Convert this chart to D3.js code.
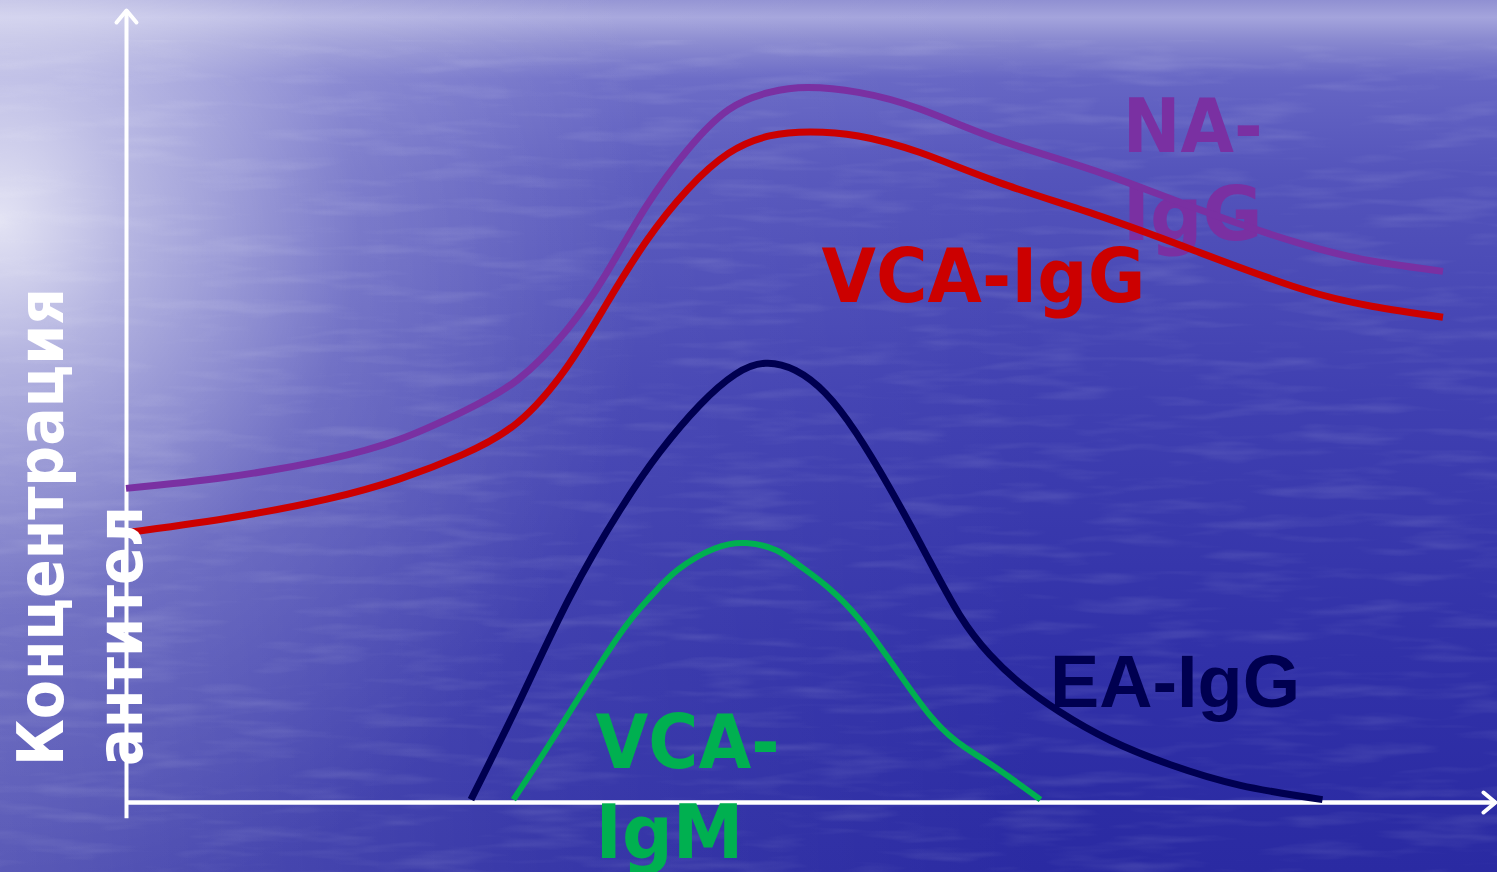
<!DOCTYPE html>
<html lang="ru">
<head>
<meta charset="utf-8">
<script src="https://cdn.jsdelivr.net/npm/d3@7"></script>
<style>
html, body { margin: 0; padding: 0; overflow: hidden; background: #3a3ab0; }
svg { display: block; }
</style>
</head>
<body>
<svg id="chart" width="1497" height="872"></svg>
<script>
// время и концентрация в условных единицах (0..100)
const naIgG = [[0, 39.6], [7.3, 41.0], [14.6, 43.2], [20.0, 45.8], [24.5, 49.2], [28.6, 53.3],
    [32.2, 59.6], [35.0, 66.5], [38.0, 75.2], [41.0, 82.3], [44.0, 87.4], [47.0, 89.6],
    [49.8, 90.2], [53.5, 89.6], [58.0, 87.5], [63.8, 83.6], [71.1, 79.5], [78.4, 74.8],
    [85.8, 70.5], [91.0, 68.3], [96.2, 67.0]];
const vcaIgG = [[0, 34.0], [7.3, 35.8], [14.6, 38.2], [20.0, 40.8], [24.5, 43.8], [28.6, 47.9],
    [32.2, 54.9], [35.0, 62.6], [38.0, 70.8], [41.0, 77.3], [44.0, 81.9], [47.0, 84.1],
    [50.0, 84.6], [53.5, 84.1], [58.0, 82.0], [63.8, 78.2], [71.1, 74.0], [78.4, 69.4],
    [85.8, 64.8], [91.0, 62.6], [96.2, 61.2]];
const eaIgG = [[25.2, 0.3], [28.8, 12.9], [32.4, 25.8], [36.1, 36.9], [39.0, 44.2], [41.9, 50.1],
    [44.5, 54.0], [46.7, 55.4], [48.9, 54.5], [51.1, 51.6], [53.3, 46.7], [55.8, 39.6],
    [58.4, 31.4], [60.9, 23.6], [63.1, 18.6], [65.3, 15.0], [68.2, 11.4], [71.9, 7.8],
    [76.3, 4.7], [81.4, 2.1], [87.4, 0.3]];
const vcaIgM = [[28.3, 0.3], [31.3, 8.3], [35.8, 20.5], [38.3, 25.9], [40.3, 29.3], [43.0, 32.0],
    [45.3, 32.7], [47.5, 31.8], [49.4, 29.6], [53.6, 23.0], [58.7, 11.0], [62.7, 5.3], [66.8, 0.3]];

const seriesNames = ["NA-IgG", "VCA-IgG", "EA-IgG", "VCA-IgM"];
const seriesData = [naIgG, vcaIgG, eaIgG, vcaIgM];
const seriesColors = ["#7a30a2", "#cc0000", "#000050", "#00b050"];

// подписи кривых (строки), и подпись оси Y
const labelLines = [["NA-", "IgG"], ["VCA-IgG"], ["EA-IgG"], ["VCA-", "IgM"]];
const yTitleLines = ["Концентрация", "антител"];

const attr_area = {
    width: 1497,
    height: 872,
    left: 126,
    right: 1495,
    top: 10,
    bottom: 802
};

const svg = d3.select("#chart");

const scX = d3.scaleLinear().domain([0, 100]).range([attr_area.left, attr_area.right]);
const scY = d3.scaleLinear().domain([0, 100]).range([attr_area.bottom, attr_area.top]);

drawBackground();
drawAxes();
drawLabels();
drawCurves();
drawYTitle();

function drawBackground() {
    const defs = svg.append("defs");

    const vert = defs.append("linearGradient").attr("id", "sea")
        .attr("x1", 0).attr("y1", 0).attr("x2", 0).attr("y2", 1);
    [[0, "#9090d2"], [0.02, "#a4a4dc"], [0.045, "#8a8ad0"], [0.09, "#6666c4"], [0.2, "#5454bb"],
     [0.45, "#4040b1"], [0.75, "#3131a8"], [1, "#2a2aa2"]]
        .forEach(s => vert.append("stop").attr("offset", s[0]).attr("stop-color", s[1]));

    const glow = defs.append("radialGradient").attr("id", "glow")
        .attr("gradientUnits", "userSpaceOnUse")
        .attr("cx", 0).attr("cy", 220).attr("r", 650)
        .attr("gradientTransform", "translate(0,220) scale(1,1.1) translate(0,-220)");
    [[0, "#ffffff", 0.8], [0.2, "#ffffff", 0.5], [0.55, "#ffffff", 0.15], [1, "#ffffff", 0]]
        .forEach(s => glow.append("stop").attr("offset", s[0])
            .attr("stop-color", s[1]).attr("stop-opacity", s[2]));

    const side = defs.append("linearGradient").attr("id", "side")
        .attr("x1", 0).attr("y1", 0).attr("x2", 1).attr("y2", 0);
    [[0, 0.2], [0.35, 0.07], [0.7, 0]]
        .forEach(s => side.append("stop").attr("offset", s[0])
            .attr("stop-color", "#ffffff").attr("stop-opacity", s[1]));

    // рябь на воде
    const f = defs.append("filter").attr("id", "ripple")
        .attr("x", 0).attr("y", 0).attr("width", 1).attr("height", 1);
    f.append("feTurbulence").attr("type", "fractalNoise")
        .attr("baseFrequency", "0.01 0.07").attr("numOctaves", 3).attr("seed", 11);
    f.append("feColorMatrix").attr("type", "matrix")
        .attr("values", "0 0 0 0 1  0 0 0 0 1  0 0 0 0 1  1.5 0 0 0 -0.72");

    svg.append("rect").attr("width", attr_area.width).attr("height", attr_area.height)
        .style("fill", "url(#sea)");
    svg.append("rect").attr("width", attr_area.width).attr("height", attr_area.height)
        .style("fill", "url(#side)");
    svg.append("rect").attr("width", attr_area.width).attr("height", attr_area.height)
        .style("fill", "url(#glow)");
    svg.append("rect").attr("y", 40).attr("width", attr_area.width).attr("height", attr_area.height - 40)
        .attr("filter", "url(#ripple)").style("opacity", 0.16);
}

function drawAxes() {
    svg.select("defs").append("marker")
        .attr("id", "arrow")
        .attr("markerUnits", "userSpaceOnUse")
        .attr("viewBox", "-16 -14 20 28")
        .attr("markerWidth", 20).attr("markerHeight", 28)
        .attr("refX", 0).attr("refY", 0)
        .attr("orient", "auto")
        .append("path")
        .attr("d", "M-12,-10L0,0L-12,10")
        .style("fill", "none")
        .style("stroke", "#ffffff")
        .style("stroke-width", 4)
        .style("stroke-linecap", "round")
        .style("stroke-linejoin", "round");

    const axisX = d3.axisBottom(scX).tickValues([]).tickSizeOuter(0);
    // ось Y немного заходит ниже оси X
    const scYaxis = scY.copy().domain([-2, 100]).range([scY(-2), scY(100)]);
    const axisY = d3.axisLeft(scYaxis).tickValues([]).tickSizeOuter(0);

    svg.append("g")
        .attr("transform", `translate(0, ${attr_area.bottom})`)
        .call(axisX)
        .select(".domain")
        .style("stroke", "#ffffff")
        .style("stroke-width", 4.5)
        .attr("marker-end", "url(#arrow)");

    svg.append("g")
        .attr("transform", `translate(${attr_area.left}, 0)`)
        .call(axisY)
        .select(".domain")
        .style("stroke", "#ffffff")
        .style("stroke-width", 4)
        .attr("marker-end", "url(#arrow)");
}

function drawLabels() {
    // левый край, базовая линия первой строки (в единицах графика), шаг строк, размер, ширина строк
    const place = [
        {x: 72.8, y: 82.1, step: 88, size: 74, font: "'DejaVu Sans', Verdana, sans-serif", widths: [140, 140]},
        {x: 50.8, y: 63.1, step: 0, size: 74, font: "'DejaVu Sans', Verdana, sans-serif", widths: [324]},
        {x: 67.5, y: 12.0, step: 0, size: 74, font: "'Liberation Sans', Arial, sans-serif", widths: [250]},
        {x: 34.3, y: 4.3, step: 90, size: 74, font: "'DejaVu Sans', Verdana, sans-serif", widths: [184, 148]}
    ];

    labelLines.forEach((lines, i) => {
        const p = place[i];
        const t = svg.append("text")
            .attr("x", scX(p.x))
            .attr("y", scY(p.y))
            .style("font-family", p.font)
            .style("font-weight", "bold")
            .style("font-size", p.size + "px")
            .style("fill", seriesColors[i]);
        lines.forEach((s, k) => {
            t.append("tspan")
                .attr("x", scX(p.x))
                .attr("y", scY(p.y) + k * p.step)
                .attr("textLength", p.widths[k])
                .attr("lengthAdjust", "spacingAndGlyphs")
                .text(s);
        });
    });
}

function drawCurves() {
    const lineGenerator = d3.line()
        .x(d => scX(d[0]))
        .y(d => scY(d[1]))
        .curve(d3.curveNatural);

    svg.selectAll(".curve")
        .data(seriesData)
        .enter()
        .append("path")
        .attr("class", "curve")
        .attr("d", d => lineGenerator(d))
        .style("fill", "none")
        .style("stroke", (d, i) => seriesColors[i])
        .style("stroke-width", (d, i) => i == 3 ? 6 : 7)
        .style("stroke-linejoin", "round");
}

function drawYTitle() {
    const baseX = [63, 142];
    yTitleLines.forEach((s, k) => {
        svg.append("text")
            .attr("transform", `translate(${baseX[k]}, 766) rotate(-90)`)
            .attr("textLength", k == 0 ? 478 : 260)
            .attr("lengthAdjust", "spacingAndGlyphs")
            .style("font-family", "'DejaVu Sans', Tahoma, sans-serif")
            .style("font-weight", "bold")
            .style("font-size", "64px")
            .style("fill", "#ffffff")
            .text(s);
    });
}
</script>
</body>
</html>
